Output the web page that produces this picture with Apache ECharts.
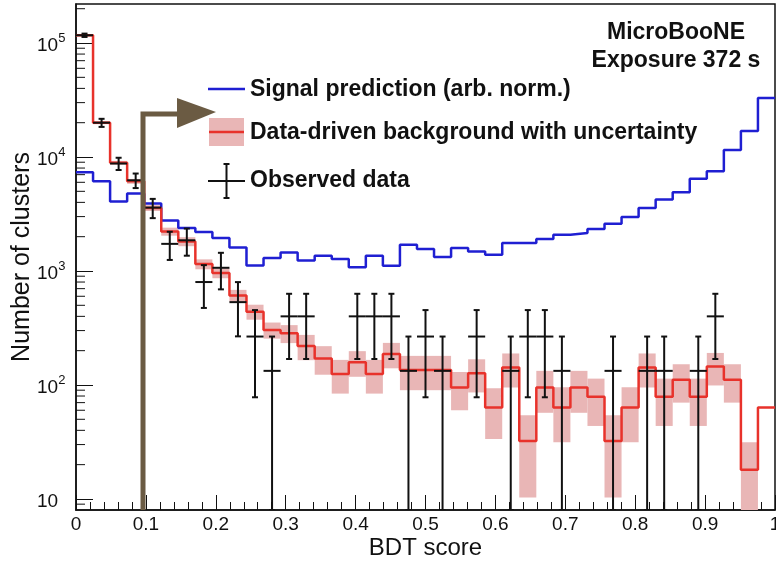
<!DOCTYPE html>
<html>
<head>
<meta charset="utf-8">
<title>BDT score</title>
<script src="https://cdn.jsdelivr.net/npm/echarts@6/dist/echarts.min.js"></script>
<style>
  html, body { margin: 0; padding: 0; background: #fff; }
  #chart { width: 776px; height: 561px; }
</style>
</head>
<body>
<div id="chart"></div>
<script>
// 41 equal bins of BDT score between 0 and 1
const nBins = 41

// signal prediction (arb. norm.), one value per bin
const signal = [7350, 6120, 4080, 4780, 3900, 2780, 2380, 2200, 1950, 1610,
  1120, 1300, 1455, 1235, 1360, 1275, 1080, 1360, 1110, 1700,
  1560, 1325, 1590, 1485, 1390, 1760, 1760, 1910, 2080, 2150,
  2335, 2600, 2980, 3570, 4230, 4900, 6430, 7500, 11500, 16900,
  33000]

// data-driven background and its uncertainty
const background = [117000, 20000, 8890, 6120, 3570, 2220, 1815, 1150, 960, 610,
  440, 304, 284, 220, 171, 125, 158, 125, 187, 135,
  135, 135, 95, 127, 63.5, 142, 32.3, 95, 63.5, 95,
  78.7, 32.3, 63.5, 142, 78.7, 111, 78.7, 145, 111, 18,
  63.5]
const backgroundErr = [2340, 600, 360, 300, 210, 180, 165, 115, 96, 73,
  66, 49, 51, 55, 48, 41, 40, 41, 47, 45,
  45, 45, 35, 41, 30, 47, 22, 38, 32, 38,
  35, 22, 32, 47, 35, 41, 35, 46, 41, 13.5,
  0]

// observed data (null = empty bin)
const observed = [117000, 20000, 8770, 6250, 3600, 1730, 1860, 800, 1067, 533,
  266, 133, 400, 400, null, null, 400, 400, 400, 133,
  266, 133, null, 266, null, 133, 266, 266, 133, null,
  null, 133, null, 133, 133, null, 133, 400, null, null,
  null]
const observedErr = [3950, 1630, 1080, 912, 691, 480, 498, 326, 377, 266,
  188, 133, 231, 231, null, null, 231, 231, 231, 133,
  188, 133, null, 188, null, 133, 188, 188, 133, null,
  null, 133, null, 133, 133, null, 133, 231, null, null,
  null]

// y axis: log scale, labelled decades
const yDecades = [10, 100, 1000, 10000, 100000]
const yMin = 8
const yMax = 220000

const binW = 1 / nBins
const font = 'Liberation Sans, Arial, Helvetica, sans-serif'

// step line points: left edge of every bin, plus the right end
function stepPoints(vals) {
  const pts = vals.map((v, i) => [i * binW, v])
  pts.push([1, vals[vals.length - 1]])
  return pts
}

const bandData = []
background.forEach((v, i) => {
  const e = backgroundErr[i]
  if (!e) return
  bandData.push([i * binW, (i + 1) * binW, Math.max(v - e, yMin), v + e])
})

const crossData = []
observed.forEach((v, i) => {
  if (v == null) return
  const e = observedErr[i]
  crossData.push([(i + 0.5) * binW, v, Math.max(v - e, yMin), v + e, i * binW, (i + 1) * binW])
})

// log minor ticks 2..9 of each decade
const minorVals = []
;[1].concat(yDecades).forEach(d => {
  for (let k = 2; k <= 9; k++) {
    const v = k * d
    if (v > yMin && v < yMax) minorVals.push([0, v])
  }
})

const chart = echarts.init(document.getElementById('chart'), null, { renderer: 'canvas' })

const option = {
  animation: false,
  backgroundColor: '#fff',
  grid: {
    left: 76, right: 1, top: 4, bottom: 51,
    containLabel: false,
    outerBoundsMode: 'none',
    show: true, borderColor: '#111', borderWidth: 1.5
  },
  xAxis: {
    type: 'value',
    min: 0, max: 1, interval: 0.1,
    name: 'BDT score',
    nameLocation: 'middle',
    nameGap: 26,
    nameMoveOverlap: false,
    nameTextStyle: { fontFamily: font, fontSize: 24, color: '#111' },
    axisLine: { show: true, lineStyle: { color: '#111', width: 1.5 } },
    axisTick: { show: true, inside: true, length: 15, lineStyle: { color: '#111' } },
    minorTick: { show: true, splitNumber: 5, length: 8, lineStyle: { color: '#111' } },
    splitLine: { show: false },
    axisLabel: { fontFamily: font, fontSize: 19, color: '#111', margin: 5 }
  },
  yAxis: {
    type: 'log',
    logBase: 10,
    min: yMin, max: yMax,
    name: 'Number of clusters',
    nameLocation: 'middle',
    nameGap: 41,
    nameMoveOverlap: false,
    nameTextStyle: { fontFamily: font, fontSize: 25, color: '#111' },
    axisLine: { show: true, lineStyle: { color: '#111', width: 1.5 } },
    axisTick: { show: true, inside: true, length: 17, lineStyle: { color: '#111' } },
    splitLine: { show: false },
    axisLabel: {
      showMinLabel: false,
      showMaxLabel: false,
      align: 'left',
      margin: 39,
      formatter: v => {
        const e = Math.round(Math.log10(v))
        if (yDecades.indexOf(Math.pow(10, e)) < 0) return ''
        if (Math.abs(v - Math.pow(10, e)) > 1e-6 * v) return ''
        return e === 1 ? '{b|10}' : '{b|10}{s|' + e + '}'
      },
      rich: {
        b: { fontFamily: font, fontSize: 19, color: '#111', padding: [6, 0, 0, 0] },
        s: { fontFamily: font, fontSize: 13, color: '#111', padding: [0, 0, 10, 0] }
      }
    }
  },
  series: [
    {
      // uncertainty band
      type: 'custom',
      clip: true,
      z: 1,
      data: bandData,
      encode: { x: [0, 1], y: [2, 3] },
      renderItem: (params, api) => {
        const p0 = api.coord([api.value(0), api.value(3)])
        const p1 = api.coord([api.value(1), api.value(2)])
        return {
          type: 'rect',
          shape: { x: p0[0], y: p0[1], width: p1[0] - p0[0], height: p1[1] - p0[1] },
          style: { fill: '#e9b6b6' }
        }
      }
    },
    {
      name: 'Signal prediction (arb. norm.)',
      type: 'line',
      step: 'end',
      symbol: 'none',
      z: 3,
      data: stepPoints(signal),
      lineStyle: { color: '#1f1fd2', width: 2.5 }
    },
    {
      name: 'Data-driven background with uncertainty',
      type: 'line',
      step: 'end',
      symbol: 'none',
      z: 4,
      data: stepPoints(background),
      lineStyle: { color: '#e8322b', width: 2.5 }
    },
    {
      name: 'Observed data',
      type: 'custom',
      clip: true,
      z: 5,
      data: crossData,
      encode: { x: [0, 4, 5], y: [1, 2, 3] },
      renderItem: (params, api) => {
        const c = api.coord([api.value(0), api.value(1)])
        const lo = api.coord([api.value(0), api.value(2)])
        const hi = api.coord([api.value(0), api.value(3)])
        const l = api.coord([api.value(4), api.value(1)])
        const r = api.coord([api.value(5), api.value(1)])
        const st = { stroke: '#111', lineWidth: 2 }
        return {
          type: 'group',
          children: [
            { type: 'line', shape: { x1: c[0], y1: lo[1], x2: c[0], y2: hi[1] }, style: st },
            { type: 'line', shape: { x1: l[0], y1: c[1], x2: r[0], y2: c[1] }, style: st },
            { type: 'line', shape: { x1: c[0] - 3, y1: hi[1], x2: c[0] + 3, y2: hi[1] }, style: st },
            { type: 'line', shape: { x1: c[0] - 3, y1: lo[1], x2: c[0] + 3, y2: lo[1] }, style: st }
          ]
        }
      }
    },
    {
      // minor ticks of the log axis
      type: 'custom',
      clip: true,
      z: 6,
      data: minorVals,
      encode: { x: 0, y: 1 },
      renderItem: (params, api) => {
        const p = api.coord([0, api.value(1)])
        return {
          type: 'line',
          shape: { x1: p[0], y1: p[1], x2: p[0] + 9, y2: p[1] },
          style: { stroke: '#111', lineWidth: 1 }
        }
      }
    }
  ],
  graphic: [
    // legend
    { type: 'line', z: 100, shape: { x1: 208, y1: 89, x2: 245, y2: 89 }, style: { stroke: '#1f1fd2', lineWidth: 2.5 } },
    { type: 'text', z: 100, x: 250, y: 90, style: { text: 'Signal prediction (arb. norm.)', font: 'bold 23px ' + font, fill: '#111', verticalAlign: 'middle' } },
    { type: 'rect', z: 100, shape: { x: 209, y: 118, width: 35, height: 28 }, style: { fill: '#e9b6b6' } },
    { type: 'line', z: 100, shape: { x1: 209, y1: 132, x2: 244, y2: 132 }, style: { stroke: '#e8322b', lineWidth: 2.5 } },
    { type: 'text', z: 100, x: 250, y: 133, style: { text: 'Data-driven background with uncertainty', font: 'bold 23px ' + font, fill: '#111', verticalAlign: 'middle' } },
    { type: 'line', z: 100, shape: { x1: 208, y1: 181, x2: 245, y2: 181 }, style: { stroke: '#111', lineWidth: 2 } },
    { type: 'line', z: 100, shape: { x1: 226.5, y1: 164, x2: 226.5, y2: 198 }, style: { stroke: '#111', lineWidth: 2 } },
    { type: 'line', z: 100, shape: { x1: 223.5, y1: 164, x2: 229.5, y2: 164 }, style: { stroke: '#111', lineWidth: 2 } },
    { type: 'line', z: 100, shape: { x1: 223.5, y1: 198, x2: 229.5, y2: 198 }, style: { stroke: '#111', lineWidth: 2 } },
    { type: 'text', z: 100, x: 250, y: 181, style: { text: 'Observed data', font: 'bold 23px ' + font, fill: '#111', verticalAlign: 'middle' } },
    // experiment label
    { type: 'text', z: 100, x: 676, y: 33, style: { text: 'MicroBooNE', font: 'bold 23px ' + font, fill: '#111', align: 'center', verticalAlign: 'middle' } },
    { type: 'text', z: 100, x: 676, y: 61, style: { text: 'Exposure 372 s', font: 'bold 23px ' + font, fill: '#111', align: 'center', verticalAlign: 'middle' } },
    // arrow annotation
    { type: 'polyline', z: 110, shape: { points: [[143, 510], [143, 114], [180, 114]] }, style: { stroke: '#6b5b43', lineWidth: 5, fill: null, lineJoin: 'miter' } },
    { type: 'polygon', z: 110, shape: { points: [[177, 98], [177, 128], [216, 112]] }, style: { fill: '#6b5b43' } }
  ]
}

chart.setOption(option)
</script>
</body>
</html>
